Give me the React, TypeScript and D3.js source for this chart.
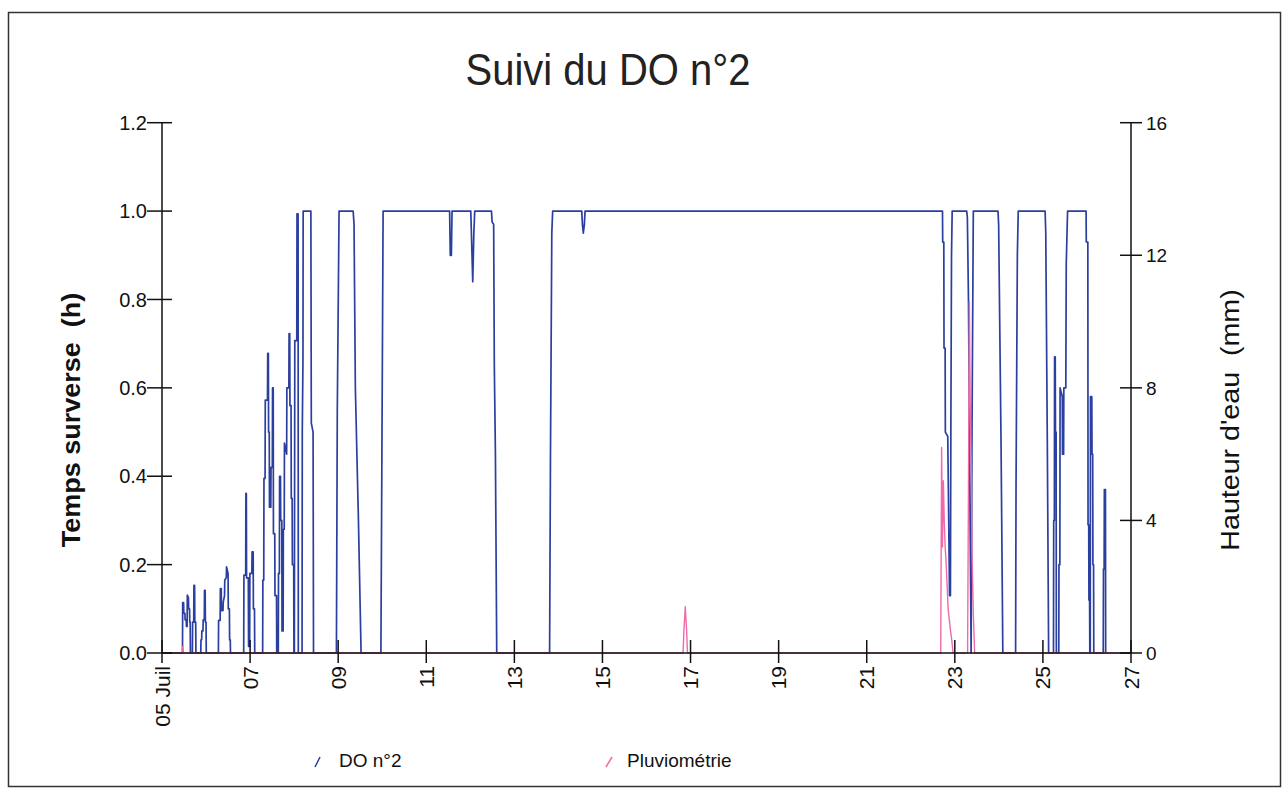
import * as d3 from 'd3'

// DO n°2 : [jour depuis le 05 juillet 0h, temps de surverse (h)]
const doN2: [number, number][] = [
  [0, 0], [0.465, 0], [0.47, 0.114], [0.49, 0.114], [0.495, 0.09], [0.52, 0.09], [0.525, 0.075], [0.55, 0.075], [0.555, 0.06], [0.57, 0.06],
  [0.575, 0.131], [0.6, 0.125], [0.605, 0.1], [0.625, 0.1], [0.63, 0.07], [0.64, 0.07], [0.645, 0],
  [0.69, 0], [0.695, 0.07], [0.72, 0.07], [0.725, 0.153], [0.74, 0.153], [0.745, 0.07], [0.765, 0.07], [0.77, 0],
  [0.88, 0], [0.885, 0.03], [0.9, 0.03], [0.905, 0.05], [0.93, 0.05], [0.935, 0.075], [0.96, 0.075], [0.965, 0.142], [0.98, 0.142], [0.985, 0.07], [1.0, 0.07], [1.005, 0],
  [1.28, 0], [1.285, 0.074], [1.32, 0.074], [1.325, 0.146], [1.345, 0.146], [1.35, 0.096], [1.385, 0.096], [1.39, 0.115], [1.42, 0.13], [1.425, 0.165],
  [1.46, 0.17], [1.465, 0.195], [1.5, 0.18], [1.505, 0.1], [1.53, 0.1], [1.535, 0.03], [1.55, 0.03], [1.555, 0],
  [1.855, 0], [1.86, 0.176], [1.9, 0.176], [1.905, 0.361], [1.915, 0.361], [1.92, 0.17], [1.96, 0.17], [1.965, 0.015], [1.99, 0.015], [1.995, 0.18],
  [2.04, 0.18], [2.045, 0.229], [2.07, 0.229], [2.075, 0.1], [2.1, 0.1], [2.105, 0],
  [2.285, 0], [2.29, 0.165], [2.31, 0.165], [2.315, 0.395], [2.34, 0.395], [2.345, 0.572], [2.395, 0.572], [2.4, 0.678], [2.415, 0.678], [2.42, 0.5],
  [2.435, 0.5], [2.44, 0.33], [2.47, 0.33], [2.475, 0.42], [2.505, 0.42], [2.51, 0.6], [2.525, 0.6], [2.53, 0.27], [2.56, 0.27], [2.565, 0.13], [2.6, 0.13], [2.605, 0],
  [2.64, 0], [2.645, 0.18], [2.665, 0.18], [2.67, 0.4], [2.69, 0.4], [2.695, 0.3], [2.72, 0.3], [2.725, 0.05], [2.75, 0.05], [2.755, 0.28], [2.775, 0.28],
  [2.78, 0.475], [2.83, 0.45], [2.835, 0.6], [2.88, 0.6], [2.885, 0.723], [2.9, 0.723], [2.905, 0.56], [2.93, 0.56], [2.935, 0.35], [2.955, 0.35], [2.96, 0.2], [2.99, 0.2], [2.995, 0],
  [3.005, 0], [3.01, 0.35], [3.015, 0.707], [3.06, 0.707], [3.065, 0.994], [3.09, 0.994], [3.095, 0], [3.18, 0], [3.185, 0.5], [3.2, 0.66], [3.205, 1.0],
  [3.38, 1.0], [3.39, 0.52], [3.43, 0.5], [3.44, 0],
  [3.96, 0], [3.98, 0.55], [4.02, 1.0], [4.34, 1.0], [4.36, 0.97], [4.39, 0.6], [4.46, 0.3], [4.52, 0],
  [4.97, 0], [4.99, 0.4], [5.02, 1.0], [6.53, 1.0], [6.545, 0.9], [6.57, 0.9], [6.585, 1.0], [7.01, 1.0], [7.025, 0.95], [7.055, 0.84],
  [7.08, 0.95], [7.1, 1.0], [7.48, 1.0], [7.495, 0.975], [7.53, 0.97], [7.545, 0.65], [7.57, 0.45], [7.6, 0],
  [8.8, 0], [8.82, 0.45], [8.85, 0.95], [8.87, 1.0], [9.53, 1.0], [9.545, 0.97], [9.565, 0.95], [9.59, 0.97], [9.605, 1.0],
  [17.72, 1.0], [17.725, 0.93], [17.75, 0.93], [17.755, 0.69], [17.78, 0.69], [17.785, 0.5], [17.84, 0.49], [17.88, 0.13], [17.9, 0.13],
  [17.91, 0.5], [17.925, 0.9], [17.94, 1.0],
  [18.27, 1.0], [18.285, 0.985], [18.31, 0.8], [18.34, 0.4], [18.37, 0], [18.39, 0.5], [18.42, 1.0], [18.98, 1.0], [18.995, 0.97], [19.05, 0.47], [19.09, 0],
  [19.38, 0], [19.39, 0.38], [19.42, 0.9], [19.44, 1.0], [20.05, 1.0], [20.065, 0.95], [20.1, 0.48], [20.13, 0],
  [20.24, 0], [20.245, 0.3], [20.26, 0.3], [20.265, 0.67], [20.28, 0.67], [20.285, 0.5], [20.3, 0.5], [20.305, 0],
  [20.36, 0], [20.365, 0.2], [20.385, 0.2], [20.39, 0.6], [20.44, 0.58], [20.445, 0.45], [20.47, 0.45], [20.475, 0.6], [20.52, 0.6], [20.53, 0.88], [20.56, 1.0],
  [20.98, 1.0], [20.985, 0.93], [21.02, 0.93], [21.025, 0.29], [21.04, 0.29], [21.045, 0.12], [21.06, 0.12], [21.065, 0],
  [21.075, 0], [21.08, 0.58], [21.11, 0.58], [21.115, 0.45], [21.13, 0.45], [21.135, 0.2], [21.15, 0.2], [21.155, 0],
  [21.37, 0], [21.375, 0.19], [21.39, 0.19], [21.395, 0.37], [21.42, 0.37], [21.425, 0]
]

// Pluviométrie : [jour, hauteur d'eau (mm)]
const pluvio: [number, number][] = [
  [0, 0], [0.46, 0], [0.47, 0.2], [0.49, 0],
  [11.83, 0], [11.85, 0.7], [11.88, 1.4], [11.91, 0.7], [11.93, 0],
  [17.68, 0], [17.7, 6.2], [17.72, 3.2], [17.74, 5.2], [17.76, 4.0], [17.78, 3.2], [17.8, 2.8], [17.85, 1.3], [17.9, 0.7], [17.93, 0.4], [17.96, 0],
  [18.29, 0], [18.31, 5.0], [18.33, 10.6], [18.35, 7.5], [18.37, 6.0], [18.39, 3.0], [18.42, 1.2], [18.45, 0], [22, 0]
]

const xTicks = [0, 2, 4, 6, 8, 10, 12, 14, 16, 18, 20, 22]
const xTickLabels = ['05 Juil', '07', '09', '11', '13', '15', '17', '19', '21', '23', '25', '27']
const leftTicks = [0, 0.2, 0.4, 0.6, 0.8, 1.0, 1.2]
const rightTicks = [0, 4, 8, 12, 16]

const font = 'Liberation Sans, Arial, sans-serif'

export default function App() {
  const left = 162, right = 1131, top = 122.7, bottom = 653

  const x = d3.scaleLinear().domain([0, 22]).range([left, right])
  const yL = d3.scaleLinear().domain([0, 1.2]).range([bottom, top])
  const yR = d3.scaleLinear().domain([0, 16]).range([bottom, top])

  const lineDo = d3.line<[number, number]>().x(d => x(d[0])).y(d => yL(d[1]))
  const linePluie = d3.line<[number, number]>().x(d => x(d[0])).y(d => yR(d[1]))

  return (
    <svg width={1288} height={791} style={{ position: 'absolute', left: 0, top: 0, background: '#fff' }} fontFamily={font}>
      <rect x={8.5} y={12.5} width={1272} height={774} fill="#fff" stroke="#333" strokeWidth={1.5} />

      <text transform="translate(608,85) scale(1,1.12)" textAnchor="middle" fontSize={40} fill="#222">Suivi du DO n°2</text>

      {/* séries */}
      <path d={lineDo(doN2) ?? ''} fill="none" stroke="#2b3f9f" strokeWidth={1.7} strokeLinejoin="round" />
      <path d={linePluie(pluvio) ?? ''} fill="none" stroke="#ef6aa8" strokeWidth={1.4} strokeLinejoin="round" />

      {/* axe gauche */}
      <g stroke="#111" strokeWidth={1.5}>
        <line x1={left} x2={left} y1={top} y2={bottom} />
        {leftTicks.map(t => (
          <line key={t} x1={left - 15} x2={left + 10} y1={yL(t)} y2={yL(t)} />
        ))}
      </g>
      {leftTicks.map(t => (
        <text key={t} x={left - 15} y={yL(t)} dy="0.36em" textAnchor="end" fontSize={20} fill="#111">{t.toFixed(1)}</text>
      ))}

      {/* axe droit */}
      <g stroke="#111" strokeWidth={1.5}>
        <line x1={right} x2={right} y1={top} y2={bottom} />
        {rightTicks.map(t => (
          <line key={t} x1={right - 11} x2={right + 11} y1={yR(t)} y2={yR(t)} />
        ))}
      </g>
      {rightTicks.map(t => (
        <text key={t} x={right + 15} y={yR(t)} dy="0.36em" fontSize={19} fill="#111">{t}</text>
      ))}

      {/* axe des x */}
      <g stroke="#111" strokeWidth={1.5}>
        <line x1={left} x2={right} y1={bottom} y2={bottom} />
        {xTicks.map(t => (
          <line key={t} x1={x(t)} x2={x(t)} y1={bottom - 13} y2={bottom + 10} />
        ))}
      </g>
      {xTicks.map((t, i) => (
        <text key={t} transform={`translate(${x(t)},${bottom + 13}) rotate(-90)`} dy="0.36em" textAnchor="end" fontSize={21} fill="#111">
          {xTickLabels[i]}
        </text>
      ))}

      {/* titres des axes */}
      <text transform="translate(80,420) rotate(-90) scale(1.08,1)" textAnchor="middle" fontSize={25} fontWeight="bold" fill="#111" xmlSpace="preserve">Temps surverse  (h)</text>
      <text transform="translate(1239,420) rotate(-90) scale(1.1,1)" textAnchor="middle" fontSize={26} fill="#111" xmlSpace="preserve">Hauteur d'eau  (mm)</text>

      {/* légende */}
      <line x1={315} y1={767} x2={320} y2={757} stroke="#2b3f9f" strokeWidth={1.5} />
      <text x={339} y={767} fontSize={19} fill="#111">DO n°2</text>
      <line x1={606} y1={767} x2={612} y2={757} stroke="#ef6aa8" strokeWidth={1.5} />
      <text x={627} y={767} fontSize={19} fill="#111">Pluviométrie</text>
    </svg>
  )
}
